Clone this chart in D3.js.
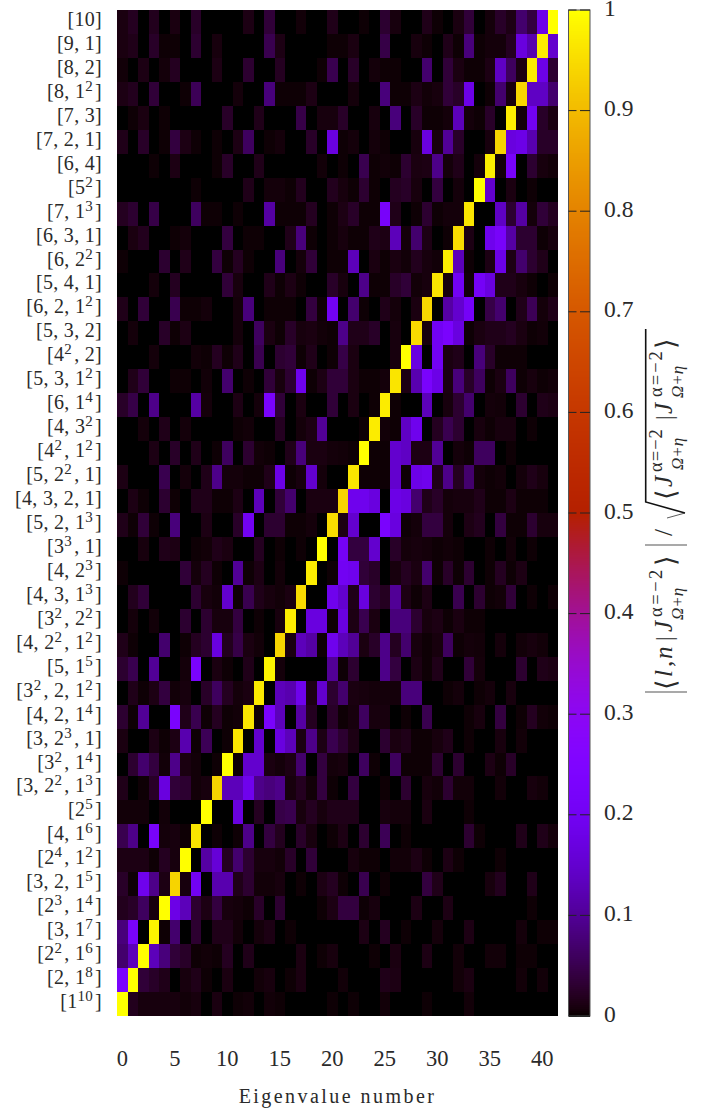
<!DOCTYPE html>
<html>
<head>
<meta charset="utf-8">
<script src="https://cdnjs.cloudflare.com/ajax/libs/d3/7.8.5/d3.min.js"></script>
<style>
html, body { margin: 0; padding: 0; background: #fff; }
svg { display: block; }
text { font-family: "Liberation Serif", serif; fill: #2a2a2a; }
</style>
</head>
<body>
<div id="chartDiv"></div>
<script>
// row labels, top of the chart first
var partitions = ["[10]", "[9, 1]", "[8, 2]", "[8, 1^2]", "[7, 3]", "[7, 2, 1]", "[6, 4]", "[5^2]", "[7, 1^3]", "[6, 3, 1]",
	"[6, 2^2]", "[5, 4, 1]", "[6, 2, 1^2]", "[5, 3, 2]", "[4^2, 2]", "[5, 3, 1^2]", "[6, 1^4]", "[4, 3^2]", "[4^2, 1^2]", "[5, 2^2, 1]",
	"[4, 3, 2, 1]", "[5, 2, 1^3]", "[3^3, 1]", "[4, 2^3]", "[4, 3, 1^3]", "[3^2, 2^2]", "[4, 2^2, 1^2]", "[5, 1^5]", "[3^2, 2, 1^2]", "[4, 2, 1^4]",
	"[3, 2^3, 1]", "[3^2, 1^4]", "[3, 2^2, 1^3]", "[2^5]", "[4, 1^6]", "[2^4, 1^2]", "[3, 2, 1^5]", "[2^3, 1^4]", "[3, 1^7]", "[2^2, 1^6]",
	"[2, 1^8]", "[1^10]"];

var xTicks = [0, 5, 10, 15, 20, 25, 30, 35, 40];
var cbTicks = [0, 0.1, 0.2, 0.3, 0.4, 0.5, 0.6, 0.7, 0.8, 0.9, 1];

// overlap values times 1000, one line per row, same order as partitions
var overlaps = [
	[10,20,0,18,0,10,0,25,0,0, 0,0,12,0,35,0,0,5,0,0, 15,0,0,3,0,30,8,0,0,15, 3,0,10,35,0,6,25,12,70,40, 180,1000],
	[10,15,0,25,3,3,0,30,0,8, 0,0,0,0,50,12,0,0,0,0, 3,3,10,0,0,45,0,0,8,3, 0,15,3,80,3,6,6,20,170,120, 975,150],
	[5,0,12,0,6,20,0,0,0,12, 0,0,30,0,0,20,0,0,0,3, 50,0,25,0,6,3,3,0,0,70, 0,35,10,3,3,12,140,60,10,970, 180,30],
	[12,18,0,35,0,0,3,55,0,0, 0,6,0,0,80,3,3,3,12,0, 0,0,6,0,0,80,3,3,12,5, 8,35,25,180,0,3,70,8,945,140, 140,70],
	[0,3,10,0,3,0,0,0,0,0, 25,0,0,15,0,0,0,45,0,8, 8,25,0,0,8,0,80,0,25,3, 3,6,130,6,3,25,0,975,6,200, 25,10],
	[15,0,25,0,3,40,12,3,0,3, 0,12,60,0,3,6,0,0,25,0, 170,3,6,0,6,3,0,0,8,170, 8,100,25,0,0,8,940,170,180,120, 25,25],
	[0,0,0,3,0,12,0,0,0,3, 25,0,0,15,0,0,0,0,0,5, 0,3,0,50,3,5,3,30,10,12, 90,6,15,0,6,975,6,220,0,30, 8,5],
	[0,0,0,0,0,0,0,3,0,0, 0,0,15,0,6,6,3,18,0,0, 18,8,3,30,3,0,20,25,8,0, 40,0,6,0,1000,150,0,10,0,3, 0,0],
	[20,30,0,45,0,0,0,60,3,3, 0,3,0,0,110,3,3,3,20,0, 3,12,25,3,3,220,15,0,3,30, 3,6,6,965,0,0,140,30,110,6, 35,20],
	[0,10,18,0,0,3,6,0,0,0, 40,0,3,3,0,0,15,80,3,0, 3,8,3,3,15,12,130,6,70,12, 0,3,950,12,0,190,220,110,30,30, 3,8],
	[3,0,0,0,30,0,15,0,0,40, 3,20,3,0,0,80,0,6,35,0, 3,3,130,0,10,3,10,5,18,8, 5,975,130,3,0,12,180,12,70,30, 15,0],
	[0,0,0,6,0,20,0,0,0,0, 35,8,0,0,15,3,12,3,0,0, 25,8,0,90,3,3,25,35,5,8, 965,8,200,5,210,170,15,15,8,3, 0,3],
	[15,0,35,0,0,50,3,3,6,0, 0,6,80,0,3,3,3,0,40,3, 200,0,70,3,0,15,6,0,10,945, 0,110,150,210,0,45,70,0,15,55, 6,15],
	[0,6,0,0,25,3,12,0,0,0, 0,6,0,60,10,3,25,8,10,5, 3,90,15,15,25,0,8,0,950,8, 200,230,170,3,10,15,15,20,10,3, 5,0],
	[0,0,0,6,0,0,0,5,3,20, 3,15,0,50,0,30,35,3,15,0, 3,45,10,0,0,0,8,1000,170,0, 200,10,15,0,80,25,3,3,3,0, 0,0],
	[0,15,35,0,0,3,3,0,5,0, 70,0,3,0,35,8,30,190,3,12, 35,35,10,3,3,6,965,12,120,230, 180,10,80,25,60,3,10,60,3,8, 3,5],
	[25,45,0,90,0,0,0,110,6,0, 0,12,0,6,230,35,0,10,0,0, 35,0,10,0,3,975,3,0,0,130, 0,8,30,70,0,6,5,0,30,0, 15,12],
	[0,0,6,0,15,0,6,0,0,0, 0,3,5,0,0,20,0,6,12,100, 0,0,0,3,975,5,3,140,190,0, 20,50,30,0,8,3,8,8,0,3, 0,0],
	[0,0,0,12,0,25,0,15,0,3, 60,0,30,5,3,0,15,80,10,10, 6,5,3,1000,3,3,150,140,12,12, 100,0,6,3,60,60,0,3,0,0, 0,0],
	[12,0,0,0,50,0,6,0,15,90, 6,6,3,3,15,180,3,8,150,6, 0,0,965,3,3,3,150,3,180,190, 15,90,20,70,6,3,5,0,6,15, 8,0],
	[0,12,3,0,30,3,0,15,15,3, 3,12,0,130,0,35,70,0,10,10, 10,940,190,190,170,0,180,170,70,15, 25,6,8,8,15,3,3,12,3,3, 3,0],
	[15,3,35,3,0,80,0,0,12,0, 0,25,200,0,30,30,3,3,6,0, 950,12,150,0,0,230,170,3,6,40, 40,6,0,12,18,0,40,3,3,30, 8,8],
	[0,0,8,0,15,12,0,3,5,15, 10,0,0,20,0,3,0,3,0,1000, 0,210,40,40,150,0,25,6,8,6, 3,5,3,0,0,3,0,5,0,3, 0,0],
	[3,0,0,0,0,0,35,6,20,3, 0,100,3,12,0,5,0,0,975,0, 3,200,190,35,25,0,8,20,10,70, 3,25,3,30,0,3,20,3,12,0, 0,0],
	[0,18,35,0,0,0,0,30,8,5, 150,3,50,15,8,5,10,950,0,0, 190,150,15,170,30,20,100,12,3,12, 0,0,50,0,30,3,5,35,0,3, 0,3],
	[0,6,0,5,0,0,30,0,30,8, 8,40,0,3,0,8,975,0,170,170, 3,170,12,50,10,0,80,80,30,8, 12,3,10,3,3,0,0,0,0,0, 0,0],
	[15,3,0,0,70,0,3,20,30,170, 18,45,10,5,0,940,10,130,110,3, 190,130,100,10,25,90,20,70,8,3, 8,60,3,6,5,0,6,0,5,8, 5,0],
	[30,50,0,100,0,0,6,230,0,10, 3,0,15,0,985,6,0,0,0,0, 100,3,30,0,0,90,40,0,12,3, 15,0,0,35,6,0,0,0,30,0, 15,12],
	[0,15,3,12,40,5,8,0,25,60, 20,6,10,970,0,130,120,190,12,150, 30,70,10,8,6,6,6,80,80,0, 0,3,6,0,3,6,0,8,0,0, 0,0],
	[30,3,100,0,0,230,15,50,3,20, 3,5,965,3,230,130,0,110,20,0, 25,3,8,60,8,8,0,3,0,50, 0,0,0,3,8,0,40,0,3,20, 5,3],
	[10,0,0,12,3,12,120,3,55,0, 3,965,0,150,0,170,130,10,90,12, 50,30,12,0,0,30,10,15,3,3, 8,15,0,3,0,0,8,0,5,0, 0,0],
	[0,30,70,40,5,90,10,5,0,3, 1000,3,150,150,10,6,12,70,0,40, 6,8,0,60,3,0,60,3,3,3, 30,0,30,0,0,12,3,25,0,0, 0,0],
	[15,0,3,25,170,35,30,5,8,940, 130,130,190,90,80,90,8,20,5,40, 3,0,40,0,0,3,0,30,0,8, 5,30,5,5,0,0,5,0,0,8, 5,0],
	[5,5,5,0,5,0,0,0,1000,0, 0,170,0,20,0,45,50,8,20,8, 15,15,15,0,0,8,6,6,0,10, 0,0,0,3,0,0,0,0,0,0, 0,0],
	[50,90,0,220,6,8,3,965,0,3, 0,3,90,0,40,18,0,25,8,0, 3,12,0,30,0,55,0,3,0,0, 0,0,0,30,3,0,0,0,15,0, 15,6],
	[12,12,12,3,20,8,1000,0,110,160, 20,70,30,8,8,5,25,0,35,0, 0,0,8,3,3,0,5,5,12,3, 0,12,3,0,0,0,3,0,0,0, 0,0],
	[25,3,190,90,12,940,8,200,0,120, 120,15,30,5,5,8,0,3,0,12, 20,3,0,50,0,3,0,0,0,40, 15,0,0,0,0,8,18,0,0,15, 0,0],
	[18,25,60,8,1000,180,130,30,12,40, 8,6,3,25,0,30,0,0,0,3, 12,40,40,3,8,0,0,0,12,0, 0,12,0,0,0,0,0,0,0,3, 0,0],
	[80,220,0,985,3,70,0,30,0,15, 15,5,0,6,12,0,3,0,0,0, 0,0,0,12,0,20,0,3,0,0, 6,0,0,12,0,0,0,0,6,0, 3,3],
	[70,130,1000,130,80,35,25,3,5,3, 20,0,15,0,0,0,0,10,0,3, 8,0,0,0,3,0,10,0,0,12, 0,0,5,0,0,5,5,0,3,3, 0,0],
	[230,1000,35,25,15,0,8,15,3,0, 10,0,0,5,8,0,3,10,0,0, 0,5,0,0,0,15,12,0,0,0, 0,0,5,10,0,0,0,0,5,0, 5,0],
	[1000,18,8,8,8,8,5,8,0,10, 0,3,5,0,5,3,0,0,0,0, 3,0,3,0,0,5,0,0,0,3, 0,0,0,5,0,0,0,0,0,0, 0,0]
];

var svg = d3.select("#chartDiv").append("svg")
	.attr("width", 715)
	.attr("height", 1112);

var plot = {left: 117, right: 558, top: 10, bottom: 1016};
var cb = {left: 568.5, right: 590};

var x_scale = d3.scaleBand()
	.domain(d3.range(overlaps[0].length))
	.range([plot.left, plot.right]);

var y_scale = d3.scaleBand()
	.domain(partitions)
	.range([plot.top, plot.bottom]);

var cb_scale = d3.scaleLinear()
	.domain([0, 1])
	.range([plot.bottom, plot.top]);

// gnuplot default pm3d palette (rgbformulae 7,5,15)
function palette(v) {
	var r = Math.sqrt(v),
		g = v * v * v,
		b = Math.max(0, Math.sin(2 * Math.PI * v));
	return d3.rgb(r * 255, g * 255, b * 255).formatHex();
}

// heat map cells
var rows = svg.append("g").attr("class", "cells")
	.attr("shape-rendering", "crispEdges")
	.selectAll("g").data(overlaps).enter()
	.append("g")
	.attr("transform", function(d, i) { return "translate(0," + y_scale(partitions[i]) + ")"; });

rows.selectAll("rect").data(function(d) { return d; }).enter()
	.append("rect")
	.attr("x", function(d, i) { return x_scale(i); })
	.attr("width", x_scale.bandwidth())
	.attr("height", y_scale.bandwidth())
	.attr("fill", function(d) { return palette(d / 1000); });

// x axis, no tick marks in the original
var xAxis = d3.axisBottom(x_scale).tickValues(xTicks).tickSize(0).tickPadding(0);
var xGroup = svg.append("g").attr("transform", "translate(0,1050)").call(xAxis);
xGroup.select(".domain").remove();
xGroup.selectAll("text").attr("font-size", 22.5).attr("font-family", null).attr("dy", "0.71em");

svg.append("text")
	.attr("x", 337.5)
	.attr("y", 1103)
	.attr("text-anchor", "middle")
	.attr("font-size", 20)
	.attr("letter-spacing", 2.45)
	.text("Eigenvalue number");

// y axis with superscripts in the labels
var yAxis = d3.axisLeft(y_scale).tickSize(0).tickPadding(0);
var yGroup = svg.append("g").attr("transform", "translate(102,0)").call(yAxis);
yGroup.select(".domain").remove();
yGroup.selectAll("text")
	.attr("font-size", 20)
	.attr("font-family", null)
	.attr("letter-spacing", 0.3)
	.attr("dy", "0.2em")
	.each(function(d) {
		var label = d3.select(this).text("");
		d.split(/(\^\d+)/).forEach(function(part) {
			if (part.charAt(0) == "^") {
				label.append("tspan").attr("dy", -7).attr("font-size", 15).text(part.slice(1));
				label.append("tspan").attr("dy", 7).text("\u200a");
			} else if (part.length > 0) {
				label.append("tspan").text(part);
			}
		});
	});

// colour box
var cb_steps = d3.range(0, 503);
svg.append("g").attr("shape-rendering", "crispEdges")
	.selectAll("rect").data(cb_steps).enter()
	.append("rect")
	.attr("x", cb.left)
	.attr("width", cb.right - cb.left)
	.attr("y", function(d) { return cb_scale((d + 1) / cb_steps.length); })
	.attr("height", (plot.bottom - plot.top) / cb_steps.length + 0.5)
	.attr("fill", function(d) { return palette(d / (cb_steps.length - 1)); });

svg.append("rect")
	.attr("x", cb.left)
	.attr("y", plot.top)
	.attr("width", cb.right - cb.left)
	.attr("height", plot.bottom - plot.top)
	.attr("fill", "none")
	.attr("stroke", "#555")
	.attr("stroke-width", 1);

var cbAxis = d3.axisRight(cb_scale).tickValues(cbTicks).tickFormat(d3.format("~g")).tickSize(0).tickPadding(0);
var cbGroup = svg.append("g").attr("transform", "translate(604,0)").call(cbAxis);
cbGroup.select(".domain").remove();
cbGroup.selectAll("text").attr("font-size", 23.5).attr("font-family", null).attr("dy", 5);

// short ticks on both sides of the colour box
var cbMarks = svg.append("g").attr("stroke", "#222").attr("stroke-width", 1);
cbTicks.forEach(function(t) {
	cbMarks.append("line").attr("x1", cb.left).attr("x2", cb.left + 8).attr("y1", cb_scale(t)).attr("y2", cb_scale(t));
	cbMarks.append("line").attr("x1", cb.right - 10).attr("x2", cb.right).attr("y1", cb_scale(t)).attr("y2", cb_scale(t));
});

// rotated colour box label, put together piece by piece: [text, screen y, baseline x, size, italic, spacing]
var cbLabel = [
	["\u27e8", 690, 675, 27, 0, 0], ["l", 677, 672, 25, 1, 0], [",", 667, 672, 25, 0, 0], ["n", 659, 672, 25, 1, 0],
	["|", 641, 672, 23, 0, 0], ["J", 632, 672, 25, 1, 0], ["\u03b1=\u22122", 617, 662, 18.5, 0, 2.5], ["\u03a9+\u03b7", 620, 683, 17, 1, 0],
	["\u27e9", 566, 675, 27, 0, 0],
	["/", 536, 672, 25, 0, 0],
	["\u27e8", 500, 675, 27, 0, 0], ["J", 487, 672, 25, 1, 0], ["\u03b1=\u22122", 472, 662, 18.5, 0, 1], ["\u03a9+\u03b7", 470, 683, 17, 1, 0],
	["|", 420, 672, 23, 0, 0], ["J", 414, 672, 25, 1, 0], ["\u03b1=\u22122", 397, 662, 18.5, 0, 2], ["\u03a9+\u03b7", 398, 683, 17, 1, 0],
	["\u27e9", 349, 675, 27, 0, 0]
];

svg.append("g").selectAll("text").data(cbLabel).enter()
	.append("text")
	.attr("transform", function(d) { return "translate(" + d[2] + "," + d[1] + ") rotate(-90)"; })
	.attr("font-size", function(d) { return d[3]; })
	.attr("font-style", function(d) { return d[4] ? "italic" : "normal"; })
	.attr("letter-spacing", function(d) { return d[5]; })
	.text(function(d) { return d[0]; });

// big absolute value bars and the square root sign
var cbRules = svg.append("g").attr("fill", "none");
[692, 545].forEach(function(y) {
	cbRules.append("line").attr("x1", 645).attr("x2", 687).attr("y1", y).attr("y2", y)
		.attr("stroke", "#555").attr("stroke-width", 1.2);
});
cbRules.append("path").attr("d", "M645.7,329V502L685,513").attr("stroke", "#111").attr("stroke-width", 1.6);
cbRules.append("path").attr("d", "M685,513L667,518").attr("stroke", "#333").attr("stroke-width", 0.8);
</script>
</body>
</html>
